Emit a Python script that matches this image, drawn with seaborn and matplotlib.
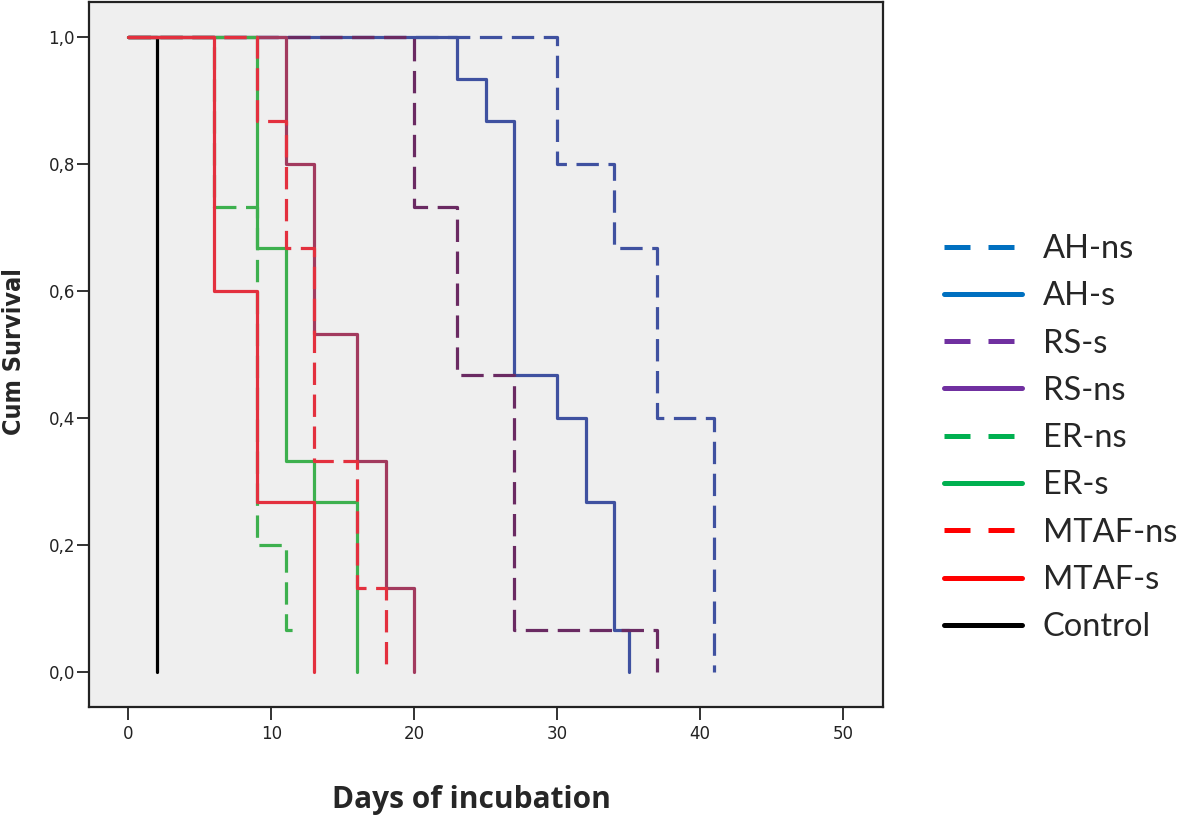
import numpy as np
import pandas as pd
import matplotlib
matplotlib.use("Agg")
import matplotlib.pyplot as plt
import seaborn as sns
from matplotlib.lines import Line2D

# ---- data ----
groups = ["AH-ns", "AH-s", "RS-s", "RS-ns", "ER-ns", "ER-s", "MTAF-ns", "MTAF-s", "Control"]

ah_ns_days = [0, 30, 34, 37, 41]
ah_ns_surv = [1.0, 0.800, 0.667, 0.400, 0.0]

ah_s_days = [0, 23, 25, 27, 30, 32, 34, 35]
ah_s_surv = [1.0, 0.933, 0.867, 0.467, 0.400, 0.267, 0.067, 0.0]

rs_s_days = [0, 20, 23, 27, 37]
rs_s_surv = [1.0, 0.733, 0.467, 0.067, 0.0]

rs_ns_days = [0, 11, 13, 16, 18, 20]
rs_ns_surv = [1.0, 0.800, 0.533, 0.333, 0.133, 0.0]

er_ns_days = [0, 6, 9, 11, 12]
er_ns_surv = [1.0, 0.733, 0.200, 0.067, 0.067]

er_s_days = [0, 9, 11, 13, 16]
er_s_surv = [1.0, 0.667, 0.333, 0.267, 0.0]

mtaf_ns_days = [0, 9, 11, 13, 16, 18]
mtaf_ns_surv = [1.0, 0.867, 0.667, 0.333, 0.133, 0.0]

mtaf_s_days = [0, 6, 9, 13]
mtaf_s_surv = [1.0, 0.600, 0.267, 0.0]

control_days = [0, 2]
control_surv = [1.0, 0.0]

x_ticks = [0, 10, 20, 30, 40, 50]
y_ticks = [0.0, 0.2, 0.4, 0.6, 0.8, 1.0]
y_tick_labels = ["0,0", "0,2", "0,4", "0,6", "0,8", "1,0"]

series_days = [ah_ns_days, ah_s_days, rs_s_days, rs_ns_days, er_ns_days,
               er_s_days, mtaf_ns_days, mtaf_s_days, control_days]
series_surv = [ah_ns_surv, ah_s_surv, rs_s_surv, rs_ns_surv, er_ns_surv,
               er_s_surv, mtaf_ns_surv, mtaf_s_surv, control_surv]

# ---- styles ----
plot_colors = ["#3F51A0", "#3F51A0", "#6A2A62", "#A23A5E", "#3DB04E",
               "#3DB04E", "#E3303E", "#E3303E", "#000000"]
legend_colors = ["#0070C0", "#0070C0", "#7030A0", "#7030A0", "#00B050",
                 "#00B050", "#FF0000", "#FF0000", "#000000"]
dashed = [True, False, True, False, True, False, True, False, False]

sns.set_style("white")
plt.rcParams["font.family"] = ["DejaVu Sans"]

fig = plt.figure(figsize=(11.81, 8.17), dpi=100)
ax = fig.add_axes([89 / 1181, 1 - 707 / 817, (883 - 89) / 1181, (707 - 2) / 817])
ax.set_facecolor("#EFEFEF")

for i, g in enumerate(groups):
    df = pd.DataFrame({"day": series_days[i], "surv": series_surv[i]})
    kw = dict(linewidth=2.3, color=plot_colors[i], drawstyle="steps-post",
              zorder=1 if g == "Control" else 2 + i * 0.1)
    sns.lineplot(data=df, x="day", y="surv", ax=ax, estimator=None,
                 sort=False, legend=False, **kw)
    line = ax.lines[-1]
    if dashed[i]:
        line.set_dashes((7, 3))

ax.set_xlim(-2.75, 52.8)
ax.set_ylim(-0.055, 1.055)
ax.set_xticks(x_ticks)
ax.set_xticklabels([str(t) for t in x_ticks])
ax.set_yticks(y_ticks)
ax.set_yticklabels(y_tick_labels)
ax.tick_params(axis="both", direction="out", length=9, width=1.3,
               color="#222222", labelsize=12, labelcolor="#222222",
               bottom=True, left=True)
ax.tick_params(axis="y", pad=1)
ax.tick_params(axis="x", pad=4)
for s in ax.spines.values():
    s.set_color("#222222")
    s.set_linewidth(1.6)
    s.set_visible(True)
ax.set_xlabel("")
ax.set_ylabel("")

fig.text(14 / 1181, 1 - 352 / 817, "Cum Survival", rotation=90,
         ha="center", va="center", fontsize=18, fontweight="bold",
         fontstretch="condensed", family=["DejaVu Sans"])
fig.text(471 / 1181, 1 - 800 / 817, "Days of incubation", ha="center",
         va="center", fontsize=21.5, fontweight="bold",
         family=["Open Sans", "DejaVu Sans"])

handles = []
for i, g in enumerate(groups):
    h = Line2D([0], [0], color=legend_colors[i], linewidth=3.6)
    if dashed[i]:
        h.set_dashes((5.2, 3.6))
    handles.append(h)

leg = ax.legend(handles, groups, loc="upper left",
                bbox_to_anchor=(944 / 1181, 1 - 234 / 817),
                bbox_transform=fig.transFigure, frameon=False,
                prop={"family": ["Lato", "DejaVu Sans"], "size": 23.5},
                handlelength=2.4, handletextpad=0.62, labelspacing=0.53,
                borderaxespad=0, borderpad=0)

fig.savefig("out.png", dpi=100, facecolor="white")
